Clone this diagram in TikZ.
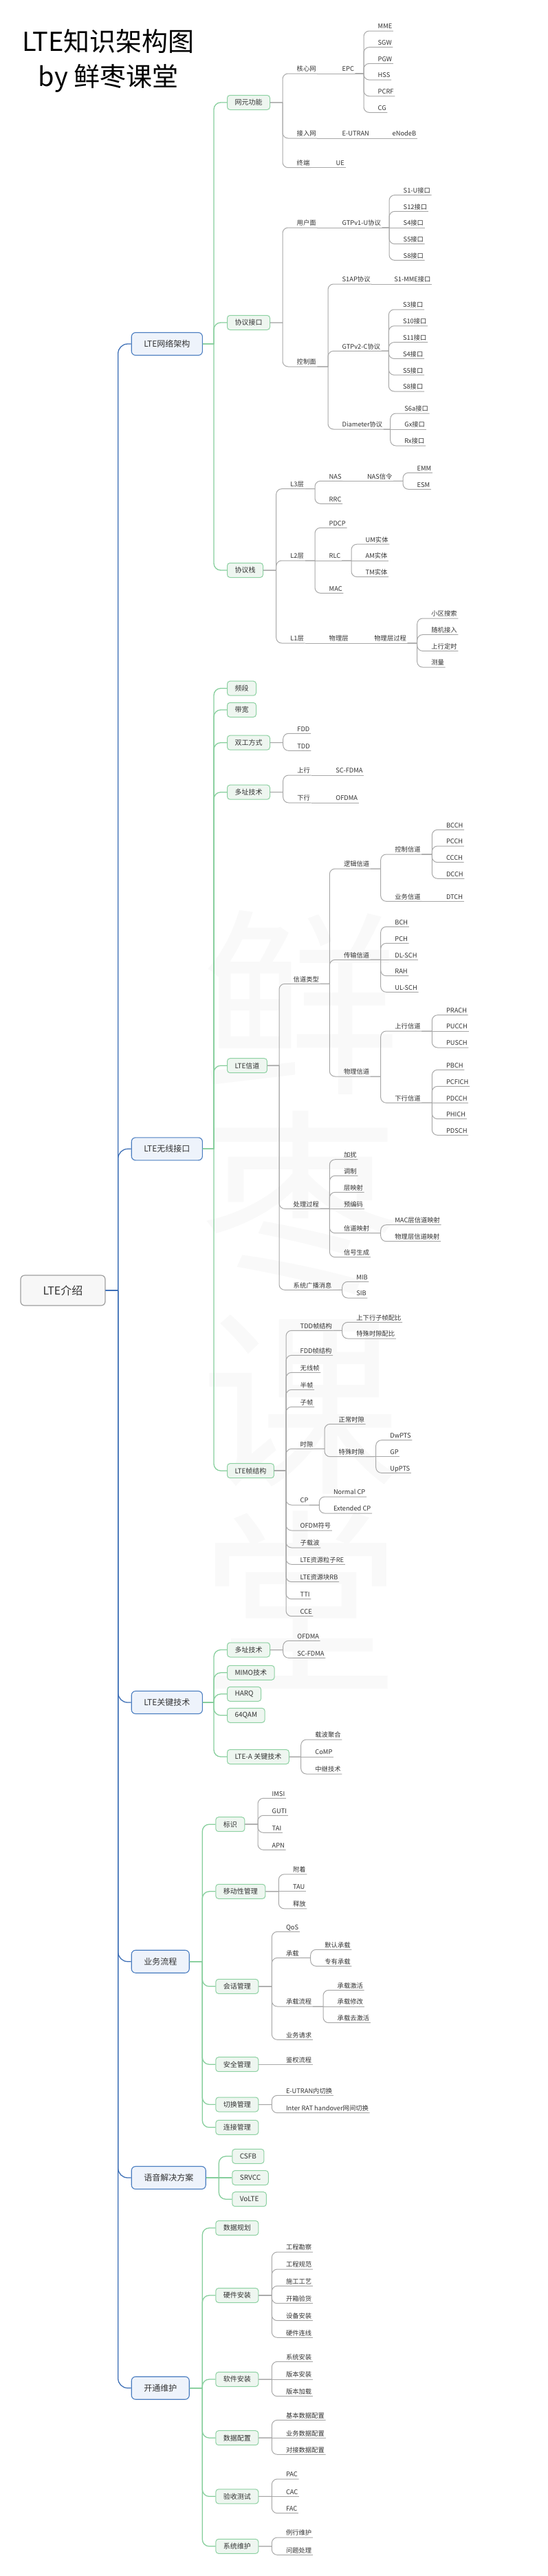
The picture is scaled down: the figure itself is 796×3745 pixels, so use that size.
\documentclass[tikz,border=0pt]{standalone}
\usepackage{fontspec}
\setmainfont{Noto Sans CJK SC}
\usepackage{xcolor}
\usepackage{tikz}
\usetikzlibrary{calc}
\usetikzlibrary{positioning}

\definecolor{txt}{HTML}{333333}
\definecolor{mainedge}{HTML}{4A7DC0}
\definecolor{mainfill}{HTML}{EEF3FB}
\definecolor{subedge}{HTML}{8DD1A2}
\definecolor{subfill}{HTML}{EEF6F0}
\definecolor{greenwire}{HTML}{86CE9C}
\definecolor{bluewire}{HTML}{3D6FB6}
\definecolor{graywire}{HTML}{A8A8A8}

\begin{document}
\begin{tikzpicture}[x=1pt, y=-1pt, text=txt,
	headline/.style={anchor=base, text=black, font=\fontsize{38}{40}\selectfont},
	rootbox/.style={draw=gray!75, fill=gray!6, rounded corners=6pt, line width=1.2pt,
				minimum width=123pt, minimum height=44pt, font=\fontsize{16}{18}\selectfont},
	mainbox/.style={draw=mainedge, fill=mainfill, rounded corners=6pt, line width=1.1pt,
				anchor=west, inner xsep=18pt, minimum height=33pt, font=\fontsize{12}{14}\selectfont},
	subbox/.style={draw=subedge, fill=subfill, rounded corners=4pt, line width=1pt,
				anchor=west, inner xsep=11pt, minimum height=21pt, font=\fontsize{10}{12}\selectfont},
	leafnode/.style={anchor=south west, inner xsep=1.5pt, inner ysep=0pt,
				text height=7pt, text depth=3pt, font=\fontsize{9.3}{11}\selectfont},
	wmark/.style={anchor=base, text=black!2.5, font=\fontsize{290}{290}\selectfont},
	bwire/.style={draw=bluewire, line width=1.3pt, rounded corners=14pt},
	gnwire/.style={draw=greenwire, line width=1.3pt, rounded corners=10pt},
	gywire/.style={draw=graywire, line width=1pt, rounded corners=8pt},
]
\useasboundingbox (0,0) rectangle (796,3745);
\foreach \ch [count=\i] in {鲜,枣,课,堂}
	\node [wmark] (wm\i) at (437,{1567+291*(\i-1)}) {\ch};
%
\node [headline] (title) at (157.5,74) {LTE知识架构图};
\node [headline] (byline) at (157.5,125) {by 鲜枣课堂};
\node [rootbox] (lte) at (91.5,1876) {LTE介绍};
\foreach \n/\lbl/\y in {net/LTE网络架构/500, air/LTE无线接口/1670.3, key/LTE关键技术/2475,
		svc/业务流程/2851.7, voice/语音解决方案/3166, ops/开通维护/3471.7}
	\node [mainbox] (\n) at (190.7,\y) {\lbl};
\foreach \n/\lbl/\x/\y in {wyg/网元功能/330/149, xyjk/协议接口/330/469, xyz/协议栈/330/829,
		pd/频段/330/1000.7, dk/带宽/330/1032, sg/双工方式/330/1079.7, dzjs/多址技术/330/1151.7,
		xd/LTE信道/330/1549.2, zjg/LTE帧结构/330/2138.2,
		dzjsb/多址技术/330/2398.5, mimo/MIMO技术/330/2431.8, harq/HARQ/330/2462.8,
		qam/64QAM/330/2493.8, ltea/LTE-A 关键技术/330/2554,
		bs/标识/313.3/2652.2, ydx/移动性管理/313.3/2749.8, hh/会话管理/313.3/2887.8,
		aq/安全管理/313.3/3001.2, qh/切换管理/313.3/3059.5, lj/连接管理/313.3/3092.8,
		csfb/CSFB/337.3/3134.8, srvcc/SRVCC/337.3/3166, volte/VoLTE/337.3/3197.2,
		sjgh/数据规划/313.3/3239, yjaz/硬件安装/313.3/3337, rjaz/软件安装/313.3/3459,
		sjpz/数据配置/313.3/3544.2, yscs/验收测试/313.3/3629.3, xtwh/系统维护/313.3/3701.8}
	\node [subbox] (\n) at (\x,\y) {\lbl};
% LTE网络架构
\foreach \n/\lbl/\x/\y in {hxw/核心网/430/107, jrw/接入网/430/201, zd/终端/430/243.7,
		epc/EPC/496/107, mme/MME/548/45, sgw/SGW/548/68.7, pgw/PGW/548/92.4,
		hss/HSS/548/116.1, pcrf/PCRF/548/139.8, cg/CG/548/163.5,
		eutran/E-UTRAN/496/201, enb/eNodeB/569/201, ue/UE/487/243.7,
		yhm/用户面/430/331, kzm/控制面/430/533, gtpu/GTPv1-U协议/496/331,
		u1/S1-U接口/585/283.6, u2/S12接口/585/307.3, u3/S4接口/585/331,
		u4/S5接口/585/354.7, u5/S8接口/585/378.4,
		s1ap/S1AP协议/496/413, s1mme/S1-MME接口/571.7/413, gtpc/GTPv2-C协议/496/510.3,
		c1/S3接口/584.3/450, c2/S10接口/584.3/473.8, c3/S11接口/584.3/497.6,
		c4/S4接口/584.3/521.4, c5/S5接口/584.3/545.2, c6/S8接口/584.3/569,
		dia/Diameter协议/496/624, d1/S6a接口/586.7/601, d2/Gx接口/586.7/624, d3/Rx接口/586.7/648,
		l3/L3层/420.7/710.7, l2/L2层/420.7/815, l1/L1层/420.7/935,
		nas/NAS/477/699.3, rrc/RRC/477/732.3, nassig/NAS信令/532.3/699.3,
		emm/EMM/605/687.3, esm/ESM/605/711.3,
		pdcp/PDCP/477/767.3, rlc/RLC/477/815, mac/MAC/477/862.3,
		um/UM实体/530/791.2, am/AM实体/530/815, tm/TM实体/530/838.6,
		phy/物理层/477/935, phyproc/物理层过程/542.7/935,
		p1/小区搜索/625.7/899, p2/随机接入/625.7/922.7, p3/上行定时/625.7/946.4, p4/测量/625.7/970}
	\node [leafnode] (\n) at (\x,\y) {\lbl};
% LTE无线接口
\foreach \n/\lbl/\x/\y in {fdd/FDD/430.7/1066.3, tdd/TDD/430.7/1091.3,
		sx/上行/430.7/1127, xx/下行/430.7/1167, scfdma/SC-FDMA/486.7/1127, ofdma/OFDMA/486.7/1167,
		xdlx/信道类型/425/1430.3, clgc/处理过程/425/1757.3, xtgb/系统广播消息/425/1875.3,
		ljxd/逻辑信道/498.3/1263, csxd/传输信道/498.3/1395.3, wlxd/物理信道/498.3/1565,
		kzxd/控制信道/572.7/1242, ywxd/业务信道/572.7/1310.3,
		bcch/BCCH/647.3/1206.3, pcch/PCCH/647.3/1230, ccch/CCCH/647.3/1253.7,
		dcch/DCCH/647.3/1277.3, dtch/DTCH/647.3/1310.3,
		bch/BCH/572.7/1347.3, pch/PCH/572.7/1371.3, dlsch/DL-SCH/572.7/1395.3,
		rah/RAH/572.7/1418.7, ulsch/UL-SCH/572.7/1442.3,
		sxxd/上行信道/572.7/1499, xxxd/下行信道/572.7/1603.3,
		prach/PRACH/647.3/1475.7, pucch/PUCCH/647.3/1499, pusch/PUSCH/647.3/1523,
		pbch/PBCH/647.3/1555.3, pcfich/PCFICH/647.3/1579.3, pdcch/PDCCH/647.3/1603.3,
		phich/PHICH/647.3/1626.7, pdsch/PDSCH/647.3/1650.3,
		jr/加扰/498.3/1685.7, tz/调制/498.3/1709.3, cys/层映射/498.3/1733.3,
		ybm/预编码/498.3/1757.3, xdys/信道映射/498.3/1792.7, xhsc/信号生成/498.3/1827.7,
		macys/MAC层信道映射/572.7/1780.7, phyys/物理层信道映射/572.7/1804.7,
		mib/MIB/516.7/1863.3, sib/SIB/516.7/1887,
		tddf/TDD帧结构/435/1934.3, fddf/FDD帧结构/435/1970.3, wxz/无线帧/435/1995.3,
		bz/半帧/435/2020.3, zz/子帧/435/2045.3, sxi/时隙/435/2106.3, cp/CP/435/2188,
		ofdmfh/OFDM符号/435/2225, zzb/子载波/435/2250, re/LTE资源粒子RE/435/2274.3,
		rb/LTE资源块RB/435/2299.7, tti/TTI/435/2324.7, cce/CCE/435/2349.7,
		sxpb/上下行子帧配比/516.7/1922.3, tspb/特殊时隙配比/516.7/1946,
		zcsx/正常时隙/491/2070.3, tssx/特殊时隙/491/2117.7,
		dwpts/DwPTS/565.7/2093.7, gp/GP/565.7/2117.7, uppts/UpPTS/565.7/2141.3,
		ncp/Normal CP/483.3/2176, ecp/Extended CP/483.3/2200}
	\node [leafnode] (\n) at (\x,\y) {\lbl};
% LTE关键技术, 业务流程, 开通维护
\foreach \n/\lbl/\x/\y in {ofdmab/OFDMA/430.7/2385.3, scfdmab/SC-FDMA/430.7/2410.3,
		zbjh/载波聚合/456.7/2529, comp/CoMP/456.7/2554, zjjs/中继技术/456.7/2579,
		imsi/IMSI/394/2614.3, guti/GUTI/394/2639.3, tai/TAI/394/2664.3, apn/APN/394/2689.3,
		fz/附着/424.3/2724.8, tau/TAU/424.3/2749.8, sf/释放/424.3/2774.8,
		qos/QoS/414.3/2808.3, cz/承载/414.3/2846.3, czlc/承载流程/414.3/2917, ywqq/业务请求/414.3/2965.3,
		mrcz/默认承载/470.7/2834.3, zycz/专有承载/470.7/2858.3,
		czjh/承载激活/489/2893.3, czxg/承载修改/489/2917, czqjh/承载去激活/489/2940.7,
		jqlc/鉴权流程/414.3/3001.2,
		nqh/E-UTRAN内切换/414.3/3046.3, wjqh/Inter RAT handover网间切换/414.3/3071.7,
		h1/工程勘察/414.3/3274, h2/工程规范/414.3/3299, h3/施工工艺/414.3/3323.3,
		h4/开箱验货/414.3/3348.7, h5/设备安装/414.3/3373.7, h6/硬件连线/414.3/3398.3,
		r1/系统安装/414.3/3433.3, r2/版本安装/414.3/3459, r3/版本加载/414.3/3483.7,
		pz1/基本数据配置/414.3/3518.3, pz2/业务数据配置/414.3/3544.2, pz3/对接数据配置/414.3/3568.3,
		pac/PAC/414.3/3604, cac/CAC/414.3/3629.3, fac/FAC/414.3/3653.7,
		lxwh/例行维护/414.3/3689, wtcl/问题处理/414.3/3714.3}
	\node [leafnode] (\n) at (\x,\y) {\lbl};
%
\foreach \c in {net,air,key,svc,voice,ops}
	\draw [bwire] (lte.east) -- ([xshift=-19pt]\c.west |- lte.east)
		([xshift=-19pt]\c.west |- lte.east) |- (\c.west);
\foreach \p/\c in {net/wyg, net/xyjk, net/xyz, air/pd, air/dk, air/sg, air/dzjs, air/xd, air/zjg,
		key/dzjsb, key/mimo, key/harq, key/qam, key/ltea,
		svc/bs, svc/ydx, svc/hh, svc/aq, svc/qh, svc/lj, voice/csfb, voice/volte,
		ops/sjgh, ops/yjaz, ops/rjaz, ops/sjpz, ops/yscs, ops/xtwh}
	\draw [gnwire] (\p.east) -- ([xshift=-19pt]\c.west |- \p.east)
		([xshift=-19pt]\c.west |- \p.east) |- (\c.west);
\draw [gnwire] (voice.east) -- (srvcc.west);
% box to text
\foreach \p/\c in {wyg/hxw, wyg/jrw, wyg/zd, xyjk/yhm, xyjk/kzm, xyz/l3, xyz/l2, xyz/l1,
		sg/fdd, sg/tdd, dzjs/sx, dzjs/xx, xd/xdlx, xd/clgc, xd/xtgb,
		zjg/tddf, zjg/fddf, zjg/wxz, zjg/bz, zjg/zz, zjg/sxi, zjg/cp, zjg/ofdmfh,
		zjg/zzb, zjg/re, zjg/rb, zjg/tti, zjg/cce, dzjsb/ofdmab, dzjsb/scfdmab,
		ltea/zbjh, ltea/zjjs, bs/imsi, bs/guti, bs/tai, bs/apn, ydx/fz, ydx/sf,
		hh/qos, hh/cz, hh/czlc, hh/ywqq, qh/nqh, qh/wjqh,
		yjaz/h1, yjaz/h2, yjaz/h3, yjaz/h4, yjaz/h5, yjaz/h6, rjaz/r1, rjaz/r3,
		sjpz/pz1, sjpz/pz3, yscs/pac, yscs/fac, xtwh/lxwh, xtwh/wtcl}
	\draw [gywire] (\p.east) -- ([xshift=-19pt]\c.south west |- \p.east)
		([xshift=-19pt]\c.south west |- \p.east) |- (\c.south east);
\foreach \p/\c in {ltea/comp, ydx/tau, aq/jqlc, rjaz/r2, sjpz/pz2, yscs/cac}
	\draw [gywire] (\p.east) -- (\c.south east);
% text to text
\foreach \p/\c in {epc/mme, epc/sgw, epc/pgw, epc/hss, epc/pcrf, epc/cg,
		gtpu/u1, gtpu/u2, gtpu/u4, gtpu/u5, kzm/s1ap, kzm/gtpc, kzm/dia,
		gtpc/c1, gtpc/c2, gtpc/c3, gtpc/c4, gtpc/c5, gtpc/c6, dia/d1, dia/d3,
		l3/nas, l3/rrc, nassig/emm, nassig/esm, l2/pdcp, l2/mac, rlc/um, rlc/tm,
		phyproc/p1, phyproc/p2, phyproc/p3, phyproc/p4,
		xdlx/ljxd, xdlx/csxd, xdlx/wlxd, ljxd/kzxd, ljxd/ywxd,
		kzxd/bcch, kzxd/pcch, kzxd/ccch, kzxd/dcch,
		csxd/bch, csxd/pch, csxd/rah, csxd/ulsch, wlxd/sxxd, wlxd/xxxd,
		sxxd/prach, sxxd/pusch, xxxd/pbch, xxxd/pcfich, xxxd/phich, xxxd/pdsch,
		clgc/jr, clgc/tz, clgc/cys, clgc/xdys, clgc/xhsc, xdys/macys, xdys/phyys,
		xtgb/mib, xtgb/sib, tddf/sxpb, tddf/tspb, sxi/zcsx, sxi/tssx,
		tssx/dwpts, tssx/uppts, cp/ncp, cp/ecp, cz/mrcz, cz/zycz, czlc/czjh, czlc/czqjh}
	\draw [gywire] (\p.south east) -- ([xshift=-19pt]\c.south west |- \p.south east)
		([xshift=-19pt]\c.south west |- \p.south east) |- (\c.south east);
\foreach \p/\c in {hxw/epc, jrw/eutran, eutran/enb, zd/ue, yhm/gtpu, gtpu/u3, s1ap/s1mme,
		dia/d2, nas/nassig, l2/rlc, rlc/am, l1/phy, phy/phyproc, sx/scfdma, xx/ofdma,
		ywxd/dtch, csxd/dlsch, sxxd/pucch, xxxd/pdcch, clgc/ybm, tssx/gp, czlc/czxg}
	\draw [gywire] (\p.south east) -- (\c.south east);
\end{tikzpicture}
\end{document}
